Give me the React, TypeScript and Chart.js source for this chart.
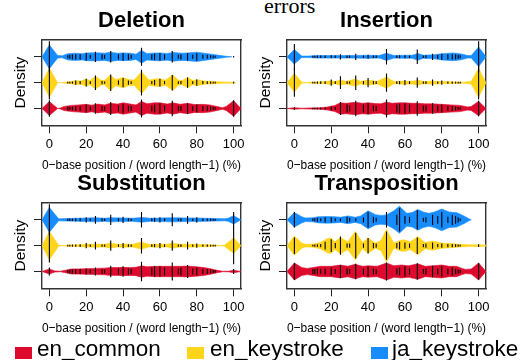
import React, { useEffect, useRef } from 'react';
import { Chart, registerables } from 'chart.js';

Chart.register(...registerables);

const FONT = "'Liberation Sans', Arial, Helvetica, sans-serif";
Chart.defaults.font.family = FONT;

const PANEL_TITLES = ['Deletion', 'Insertion', 'Substitution', 'Transposition'];
const SERIES = ['en_common', 'en_keystroke', 'ja_keystroke'];
const COLORS = ['#DE0A2E', '#FFD51C', '#168CFF'];
const ROWS = [1, 2, 3];
const X_TICKS = [0, 20, 40, 60, 80, 100];
const X_LABEL = '0\u2212base position / (word length\u22121) (%)';
const Y_LABEL = 'Density';

// positions (%) where bean lines sit
const BEAN_POS = [0, 10, 11.1, 12.5, 14.3, 16.7, 20, 22.2, 25, 28.6, 30, 33.3, 37.5, 40, 42.9, 44.4, 50, 55.6, 57.1, 60, 62.5, 66.7, 70, 71.4, 75, 77.8, 80, 83.3, 85.7, 87.5, 88.9, 90, 100];

// bean line half lengths (density units), per panel: [en_common, en_keystroke, ja_keystroke]
const DEL_LINES = [
  [0.32, 0.08, 0.06, 0.08, 0.1, 0.1, 0.15, 0.08, 0.2, 0.1, 0.08, 0.25, 0.12, 0.18, 0.12, 0.1, 0.35, 0.12, 0.15, 0.2, 0.12, 0.3, 0.1, 0.1, 0.2, 0.1, 0.15, 0.1, 0.1, 0.08, 0.06, 0.05, 0.32],
  [0.65, 0.03, 0.03, 0.04, 0.08, 0.06, 0.15, 0.05, 0.28, 0.06, 0.04, 0.32, 0.08, 0.18, 0.08, 0.05, 0.5, 0.06, 0.1, 0.15, 0.06, 0.3, 0.05, 0.06, 0.2, 0.05, 0.12, 0.06, 0.05, 0.04, 0.03, 0.03, 0.03],
  [0.6, 0.06, 0.08, 0.1, 0.1, 0.1, 0.15, 0.08, 0.2, 0.1, 0.08, 0.22, 0.1, 0.15, 0.12, 0.08, 0.35, 0.1, 0.12, 0.15, 0.1, 0.22, 0.08, 0.1, 0.15, 0.08, 0.15, 0.08, 0.08, 0.06, 0.05, 0.04, 0.03],
];
const INS_LINES = [
  [0.05, 0.03, 0.03, 0.03, 0.04, 0.04, 0.08, 0.06, 0.25, 0.15, 0.12, 0.3, 0.15, 0.22, 0.12, 0.1, 0.35, 0.15, 0.18, 0.2, 0.15, 0.28, 0.12, 0.12, 0.2, 0.12, 0.15, 0.1, 0.1, 0.08, 0.06, 0.05, 0.3],
  [0.55, 0.03, 0.03, 0.04, 0.05, 0.05, 0.12, 0.05, 0.25, 0.05, 0.04, 0.28, 0.06, 0.18, 0.06, 0.05, 0.35, 0.05, 0.06, 0.1, 0.05, 0.2, 0.04, 0.05, 0.12, 0.04, 0.08, 0.04, 0.04, 0.03, 0.03, 0.03, 0.65],
  [0.5, 0.04, 0.04, 0.05, 0.05, 0.05, 0.06, 0.05, 0.1, 0.05, 0.05, 0.12, 0.05, 0.08, 0.05, 0.05, 0.3, 0.05, 0.06, 0.06, 0.05, 0.28, 0.05, 0.06, 0.12, 0.08, 0.12, 0.1, 0.1, 0.1, 0.08, 0.06, 0.6],
];
const SUB_LINES = [
  [0.15, 0.06, 0.08, 0.08, 0.1, 0.1, 0.12, 0.08, 0.15, 0.1, 0.08, 0.22, 0.12, 0.2, 0.12, 0.1, 0.38, 0.15, 0.2, 0.2, 0.15, 0.35, 0.12, 0.15, 0.25, 0.12, 0.15, 0.1, 0.1, 0.08, 0.06, 0.05, 0.1],
  [0.65, 0.03, 0.03, 0.04, 0.04, 0.05, 0.1, 0.04, 0.15, 0.04, 0.04, 0.2, 0.05, 0.1, 0.05, 0.04, 0.3, 0.05, 0.06, 0.1, 0.05, 0.2, 0.04, 0.05, 0.15, 0.04, 0.08, 0.04, 0.04, 0.03, 0.03, 0.03, 0.72],
  [0.6, 0.05, 0.05, 0.05, 0.06, 0.06, 0.1, 0.05, 0.15, 0.06, 0.05, 0.2, 0.06, 0.12, 0.06, 0.05, 0.3, 0.06, 0.08, 0.1, 0.06, 0.25, 0.05, 0.06, 0.15, 0.05, 0.1, 0.05, 0.05, 0.05, 0.04, 0.04, 0.3],
];
const TRA_LINES = [
  [0.32, 0.1, 0.1, 0.12, 0.1, 0.12, 0.15, 0.1, 0.25, 0.12, 0.1, 0.3, 0.12, 0.2, 0.12, 0.1, 0.35, 0.12, 0.15, 0.2, 0.12, 0.32, 0.1, 0.12, 0.22, 0.12, 0.2, 0.12, 0.15, 0.1, 0.08, 0.06, 0.32],
  [0.32, 0.03, 0.04, 0.05, 0.06, 0.15, 0.25, 0.1, 0.35, 0.08, 0.08, 0.5, 0.08, 0.3, 0.1, 0.08, 0.55, 0.1, 0.15, 0.12, 0.08, 0.32, 0.06, 0.08, 0.12, 0.06, 0.08, 0.06, 0.06, 0.05, 0.04, 0.03, 0.05],
  [0.3, 0.05, 0.06, 0.08, 0.06, 0.1, 0.1, 0.06, 0.06, 0.12, 0.08, 0.06, 0.1, 0.3, 0.12, 0.08, 0.3, 0.2, 0.45, 0.15, 0.12, 0.38, 0.08, 0.1, 0.2, 0.15, 0.3, 0.12, 0.2, 0.15, 0.1, 0.05, 0],
];

// density outlines: [position %, half width], per panel: [en_common, en_keystroke, ja_keystroke]
const DEL_DENS = [
  [[-4, 0], [0, 0.27], [4.5, 0], [6, 0.02], [8, 0.08], [12, 0.12], [16, 0.14], [20, 0.16], [23, 0.13], [26, 0.17], [30, 0.14], [33, 0.2], [37, 0.17], [40, 0.22], [44, 0.17], [47, 0.14], [50, 0.27], [53, 0.18], [57, 0.22], [60, 0.22], [64, 0.17], [67, 0.22], [71, 0.16], [75, 0.2], [79, 0.15], [83, 0.16], [87, 0.14], [91, 0.08], [94, 0.03], [96, 0.08], [100, 0.3], [104, 0]],
  [[-4, 0], [0, 0.56], [4.5, 0], [7, 0], [8, 0.02], [12, 0.04], [14, 0.08], [17, 0.06], [20, 0.14], [22, 0.08], [25, 0.25], [28, 0.1], [30, 0.08], [33, 0.3], [36, 0.12], [40, 0.2], [43, 0.12], [46, 0.1], [50, 0.42], [54, 0.1], [57, 0.14], [60, 0.15], [63, 0.1], [67, 0.3], [70, 0.1], [72, 0.08], [75, 0.2], [78, 0.08], [80, 0.12], [84, 0.06], [88, 0.05], [92, 0.03], [96, 0.02], [100, 0.02], [101, 0]],
  [[-4, 0], [0, 0.46], [4.5, 0.05], [7, 0.04], [10, 0.12], [14, 0.14], [18, 0.12], [20, 0.15], [25, 0.16], [30, 0.14], [33, 0.18], [37, 0.14], [40, 0.15], [44, 0.14], [47, 0.1], [50, 0.25], [53, 0.12], [57, 0.15], [60, 0.15], [64, 0.13], [67, 0.17], [72, 0.14], [75, 0.15], [80, 0.18], [84, 0.14], [88, 0.1], [92, 0.06], [96, 0.02], [99, 0]],
];
const INS_DENS = [
  [[-4, 0], [0, 0.03], [4, 0.01], [8, 0.02], [14, 0.03], [18, 0.06], [22, 0.12], [25, 0.22], [28, 0.2], [33, 0.24], [37, 0.2], [40, 0.22], [44, 0.19], [47, 0.18], [50, 0.25], [53, 0.2], [57, 0.22], [60, 0.22], [64, 0.2], [67, 0.2], [71, 0.18], [75, 0.18], [80, 0.16], [85, 0.14], [90, 0.12], [94, 0.06], [96, 0.08], [100, 0.28], [104, 0]],
  [[-4, 0], [0, 0.36], [4, 0.02], [7, 0], [8, 0.02], [15, 0.03], [18, 0.05], [20, 0.08], [22, 0.04], [25, 0.1], [28, 0.05], [33, 0.14], [36, 0.05], [40, 0.1], [45, 0.05], [50, 0.22], [54, 0.04], [60, 0.06], [64, 0.05], [67, 0.1], [70, 0.04], [75, 0.06], [80, 0.04], [85, 0.03], [92, 0.02], [96, 0.05], [100, 0.56], [104, 0]],
  [[-4, 0], [0, 0.28], [4, 0.03], [8, 0.03], [12, 0.05], [20, 0.05], [30, 0.05], [40, 0.06], [46, 0.05], [50, 0.14], [54, 0.05], [60, 0.06], [64, 0.06], [67, 0.13], [70, 0.06], [76, 0.08], [80, 0.12], [86, 0.15], [90, 0.12], [94, 0.05], [96, 0.05], [100, 0.38], [104, 0]],
];
const SUB_DENS = [
  [[-4, 0], [0, 0.1], [3, 0.02], [6, 0.01], [8, 0.04], [12, 0.1], [16, 0.1], [20, 0.11], [25, 0.12], [30, 0.13], [33, 0.15], [37, 0.15], [40, 0.16], [44, 0.15], [47, 0.16], [50, 0.22], [53, 0.18], [57, 0.2], [60, 0.2], [64, 0.2], [67, 0.2], [71, 0.2], [75, 0.21], [80, 0.18], [84, 0.15], [88, 0.1], [91, 0.05], [94, 0.01], [97, 0.01], [100, 0.05], [104, 0]],
  [[-4, 0], [0, 0.55], [5, 0.02], [8, 0], [9, 0.02], [15, 0.03], [20, 0.05], [25, 0.06], [30, 0.05], [33, 0.1], [37, 0.05], [40, 0.06], [45, 0.05], [50, 0.14], [54, 0.05], [60, 0.06], [64, 0.05], [67, 0.1], [71, 0.05], [75, 0.06], [80, 0.05], [85, 0.04], [90, 0.02], [93, 0], [95, 0.02], [100, 0.3], [104, 0]],
  [[-4, 0], [0, 0.48], [5, 0.04], [10, 0.05], [15, 0.06], [20, 0.07], [25, 0.08], [30, 0.06], [33, 0.08], [40, 0.07], [45, 0.06], [50, 0.09], [55, 0.06], [60, 0.07], [67, 0.08], [75, 0.07], [80, 0.07], [85, 0.06], [90, 0.05], [95, 0.04], [97, 0.06], [100, 0.16], [104, 0]],
];
const TRA_DENS = [
  [[-4, 0], [0, 0.33], [4, 0.15], [7, 0.12], [10, 0.15], [14, 0.2], [20, 0.2], [25, 0.25], [29, 0.2], [33, 0.28], [37, 0.2], [40, 0.22], [45, 0.2], [50, 0.33], [54, 0.22], [58, 0.25], [62, 0.22], [67, 0.3], [71, 0.2], [75, 0.22], [80, 0.25], [84, 0.2], [88, 0.2], [91, 0.12], [93, 0.08], [96, 0.1], [100, 0.33], [104, 0]],
  [[-4, 0], [0, 0.37], [4, 0.1], [6, 0.05], [10, 0.06], [14, 0.12], [18, 0.28], [20, 0.3], [22, 0.15], [25, 0.32], [29, 0.15], [33, 0.55], [37, 0.12], [40, 0.3], [44, 0.1], [47, 0.2], [50, 0.63], [54, 0.1], [58, 0.22], [60, 0.22], [63, 0.15], [67, 0.35], [71, 0.12], [75, 0.18], [80, 0.1], [85, 0.08], [90, 0.05], [95, 0.03], [100, 0.03], [104, 0.02]],
  [[-4, 0], [0, 0.28], [4, 0.12], [6, 0.07], [10, 0.08], [13, 0.12], [18, 0.13], [22, 0.12], [25, 0.1], [29, 0.15], [33, 0.1], [36, 0.15], [40, 0.35], [44, 0.2], [47, 0.17], [50, 0.19], [54, 0.35], [57, 0.52], [61, 0.25], [64, 0.28], [67, 0.4], [70, 0.3], [73, 0.25], [76, 0.3], [80, 0.42], [84, 0.3], [88, 0.28], [92, 0.15], [95, 0.03], [96, 0]],
];

const PANEL_LINES = [DEL_LINES, INS_LINES, SUB_LINES, TRA_LINES];
const PANEL_DENS = [DEL_DENS, INS_DENS, SUB_DENS, TRA_DENS];

const CANVAS_W = 265;
const CANVAS_H = 174;
const PANEL_POS = [
  { left: 0, top: 0 },
  { left: 245, top: 0 },
  { left: 0, top: 163 },
  { left: 245, top: 163 },
];

function Panel({ index }: { index: number }) {
  const ref = useRef<HTMLCanvasElement>(null);
  useEffect(() => {
    if (!ref.current) return;
    const lines = PANEL_LINES[index];
    const dens = PANEL_DENS[index];
    const datasets: any[] = [];
    lines.forEach((lens, s) => {
      datasets.push({
        type: 'line',
        label: SERIES[s] + ' lines',
        data: BEAN_POS.map((x, i) => ({ x, y: ROWS[s], h: lens[i] })).filter((d) => d.h > 0),
        showLine: false,
        pointStyle: 'line',
        pointRotation: 90,
        pointRadius: (c: any) => {
          const sc = c.chart.scales.y;
          const raw = c.raw;
          if (!sc || !raw) return 0;
          return Math.abs(sc.getPixelForValue(raw.h) - sc.getPixelForValue(0));
        },
        pointBorderColor: '#000',
        pointBorderWidth: 1.1,
        order: 0,
      });
    });
    dens.forEach((pts, s) => {
      const row = ROWS[s];
      datasets.push({
        type: 'line',
        label: SERIES[s],
        data: pts.map(([x, h]) => ({ x, y: row + h })),
        fill: '+1',
        backgroundColor: COLORS[s],
        borderColor: COLORS[s],
        borderWidth: 0.6,
        pointRadius: 0,
        order: 1,
      });
      datasets.push({
        type: 'line',
        label: SERIES[s] + ' low',
        data: pts.map(([x, h]) => ({ x, y: row - h })),
        fill: false,
        borderColor: COLORS[s],
        borderWidth: 0.6,
        pointRadius: 0,
        order: 1,
      });
    });
    const border = { display: true, color: '#333', width: 1.4 };
    const chart = new Chart(ref.current, {
      type: 'line',
      data: { datasets },
      options: {
        responsive: false,
        animation: false,
        events: [],
        layout: { padding: { left: 0, right: 24, top: 0, bottom: 0 } },
        plugins: {
          legend: { display: false },
          tooltip: { enabled: false },
          title: {
            display: true,
            text: PANEL_TITLES[index],
            fullSize: false,
            color: '#000',
            font: { family: FONT, size: 22, weight: 'bold' },
            padding: { top: 8, bottom: 5.6 },
          },
        },
        scales: {
          x: {
            type: 'linear',
            min: -4,
            max: 104,
            afterBuildTicks: (sc: any) => {
              sc.ticks = X_TICKS.map((v) => ({ value: v }));
            },
            ticks: { color: '#000', font: { family: FONT, size: 13 }, padding: 3.7, maxRotation: 0, autoSkip: false },
            grid: { display: true, drawOnChartArea: false, drawTicks: true, tickLength: 8, color: '#222', lineWidth: 1 },
            border,
            title: { display: true, text: X_LABEL, color: '#000', font: { family: FONT, size: 13.5 }, padding: { top: 0.5, bottom: 1 } },
          },
          y: {
            type: 'linear',
            min: 0.35,
            max: 3.65,
            afterBuildTicks: (sc: any) => {
              sc.ticks = ROWS.map((v) => ({ value: v }));
            },
            ticks: { display: false },
            grid: { display: true, drawOnChartArea: false, drawTicks: true, tickLength: 8, color: '#222', lineWidth: 1 },
            border,
            title: { display: true, text: Y_LABEL, color: '#000', font: { family: FONT, size: 15.5 }, padding: { top: 11.5, bottom: 3.9 } },
          },
          x2: {
            type: 'linear',
            position: 'top',
            min: -4,
            max: 104,
            ticks: { display: false },
            grid: { display: false, drawTicks: false },
            border,
          },
          y2: {
            type: 'linear',
            position: 'right',
            min: 0.35,
            max: 3.65,
            ticks: { display: false },
            grid: { display: false, drawTicks: false },
            border,
          },
        },
      } as any,
    });
    return () => chart.destroy();
  }, [index]);
  const pos = PANEL_POS[index];
  return (
    <canvas
      ref={ref}
      width={CANVAS_W}
      height={CANVAS_H}
      style={{ position: 'absolute', left: pos.left, top: pos.top, width: CANVAS_W, height: CANVAS_H }}
    />
  );
}

const LEGEND_POS = [
  { sq: 15, tx: 37 },
  { sq: 187, tx: 210 },
  { sq: 371, tx: 392 },
];

export default function App() {
  return (
    <div style={{ position: 'absolute', left: 0, top: 0, width: 531, height: 360, overflow: 'hidden', background: '#fff' }}>
      <div
        style={{
          position: 'absolute',
          left: 264,
          top: -5.4,
          fontFamily: "'Liberation Serif', 'Times New Roman', serif",
          fontSize: 22,
          lineHeight: '22px',
          color: '#000',
          whiteSpace: 'nowrap',
        }}
      >
        errors
      </div>
      {PANEL_TITLES.map((_, i) => (
        <Panel key={i} index={i} />
      ))}
      {SERIES.map((name, i) => (
        <React.Fragment key={name}>
          <div style={{ position: 'absolute', left: LEGEND_POS[i].sq, top: 347, width: 17, height: 12, background: COLORS[i] }} />
          <div
            style={{
              position: 'absolute',
              left: LEGEND_POS[i].tx,
              top: 338.4,
              fontFamily: FONT,
              fontSize: 22.5,
              lineHeight: '22px',
              color: '#000',
              whiteSpace: 'nowrap',
            }}
          >
            {name}
          </div>
        </React.Fragment>
      ))}
    </div>
  );
}
